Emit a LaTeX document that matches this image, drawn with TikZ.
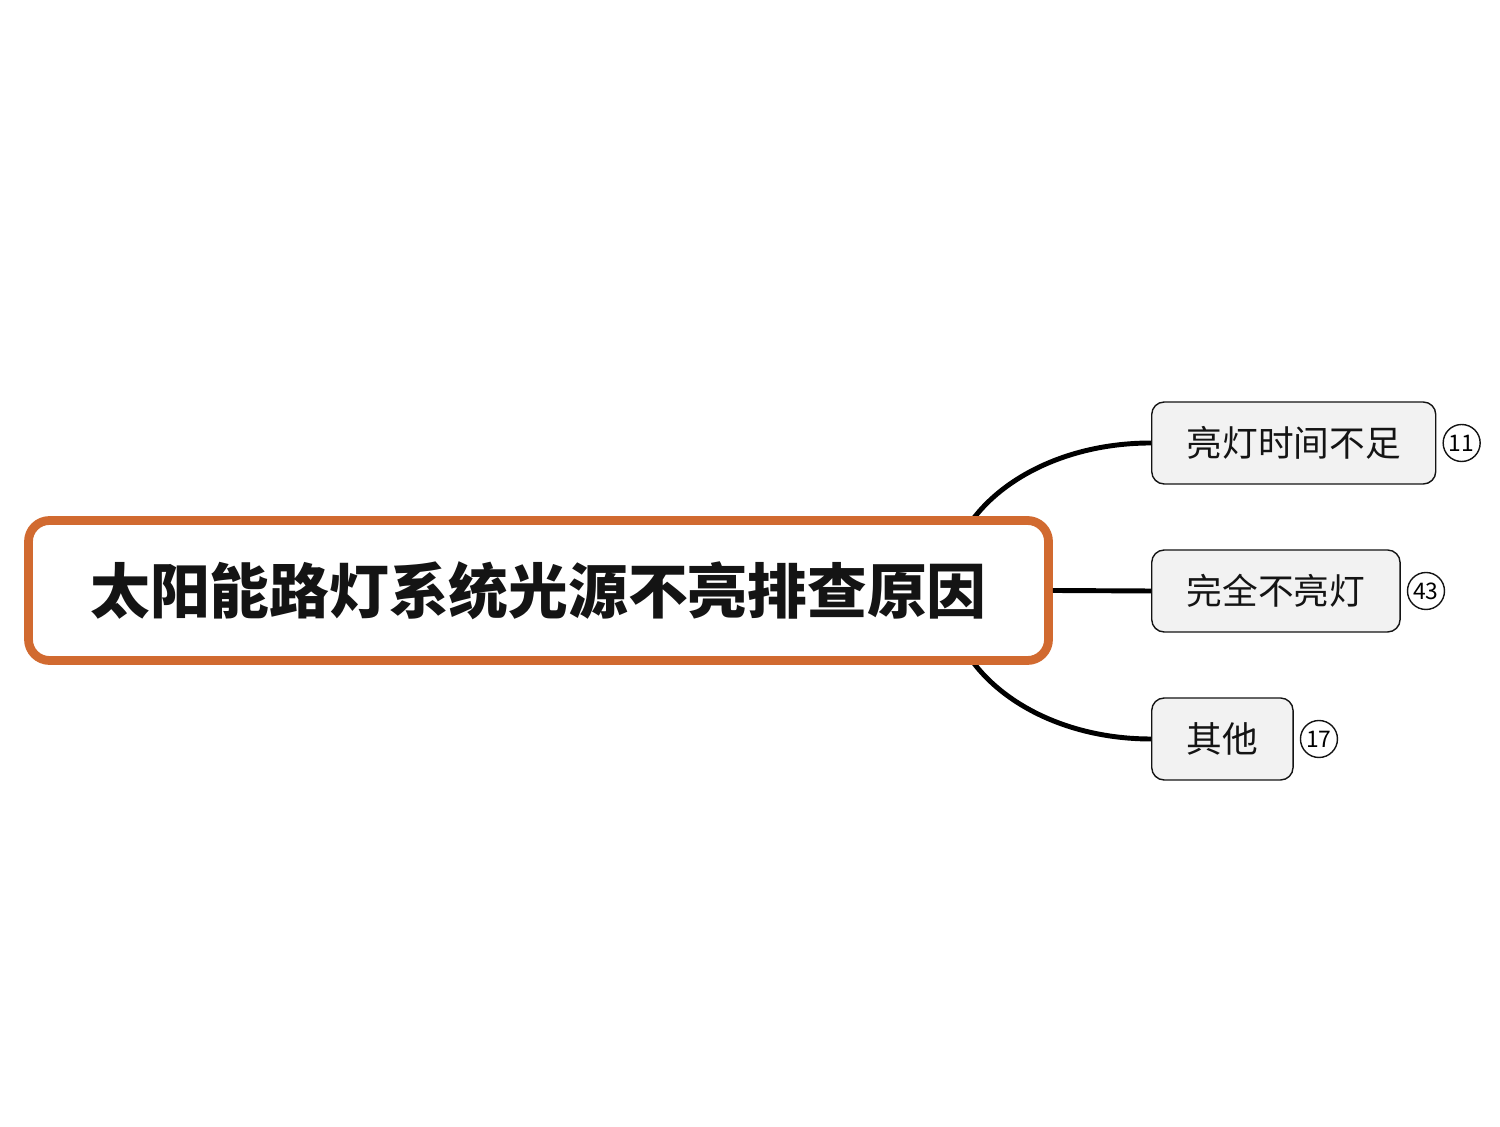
\documentclass[tikz,border=0pt]{standalone}
\usepackage{fontspec}
\newfontfamily\cjk{Noto Sans CJK SC}
\usepackage{xcolor}
\usetikzlibrary{backgrounds,calc}
\definecolor{rootorange}{RGB}{209,106,48}
\definecolor{topicgray}{RGB}{242,242,242}
\definecolor{inkblack}{RGB}{20,20,20}

\begin{document}
\begin{tikzpicture}[
  root/.style={draw=rootorange, line width=5pt, fill=white, rounded corners=0.42cm,
    minimum width=20.4cm, minimum height=2.8cm, inner sep=0pt,
    font=\cjk\bfseries\fontsize{34pt}{38pt}\selectfont, text=inkblack},
  topic/.style={draw=inkblack, line width=0.8pt, fill=topicgray, rounded corners=0.25cm,
    minimum height=1.64cm, inner xsep=0.7cm, anchor=west,
    font=\cjk\fontsize{20.3pt}{24pt}\selectfont, text=inkblack},
  count/.style={draw=inkblack, line width=0.8pt, circle, inner sep=0pt, minimum size=0.74cm,
    font=\cjk\fontsize{13pt}{14pt}\selectfont, right=0.12cm},
  branch/.style={draw=black, line width=2.8pt}
]
\useasboundingbox (0,0) rectangle (30,22.52);

\node[root] (root) at (10.77,10.71) {太阳能路灯系统光源不亮排查原因};

\node[topic] (timeshort) at (23.02,13.66) {亮灯时间不足};
\node[topic] (nolight) at (23.02,10.70) {完全不亮灯};
\node[topic] (others) at (23.02,7.74) {其他};

\node[count] (ntimeshort) at (timeshort.east) {11};
\node[count] (nnolight) at (nolight.east) {43};
\node[count] (nothers) at (others.east) {17};

\coordinate (fork) at ($(root.east)+(-2.1,0)$);

\begin{scope}[on background layer]
\draw[branch] (fork) .. controls +(0,1.62) and +(-2.28,0) .. (timeshort.west);
\draw[branch] (fork) .. controls +(0,-1.62) and +(-2.28,0) .. (others.west);
\end{scope}
\draw[branch] (root.east) -- (nolight.west);
\end{tikzpicture}
\end{document}
